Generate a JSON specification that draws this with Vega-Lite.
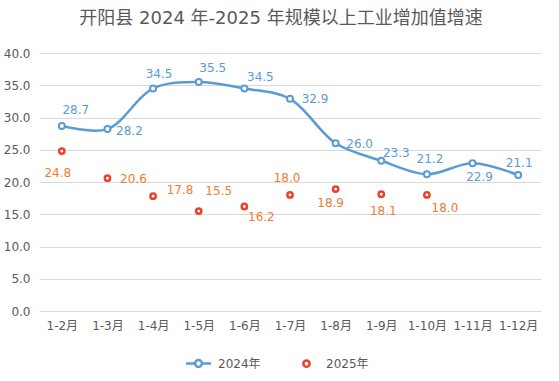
{
  "$schema": "https://vega.github.io/schema/vega-lite/v6.json",
  "width": 502,
  "height": 258,
  "autosize": {"type": "none"},
  "padding": {"left": 39, "top": 53, "right": 18, "bottom": 70},
  "background": "white",
  "title": {
    "text": "开阳县 2024 年-2025 年规模以上工业增加值增速",
    "fontSize": 18,
    "font": "DejaVu Sans, Noto Sans CJK SC",
    "fontWeight": "normal",
    "color": "#595959",
    "anchor": "middle",
    "dx": -9,
    "offset": 19
  },
  "data": {
    "values": [
      {"m": "1-2月", "y": "2024年", "v": 28.7},
      {"m": "1-3月", "y": "2024年", "v": 28.2},
      {"m": "1-4月", "y": "2024年", "v": 34.5},
      {"m": "1-5月", "y": "2024年", "v": 35.5},
      {"m": "1-6月", "y": "2024年", "v": 34.5},
      {"m": "1-7月", "y": "2024年", "v": 32.9},
      {"m": "1-8月", "y": "2024年", "v": 26.0},
      {"m": "1-9月", "y": "2024年", "v": 23.3},
      {"m": "1-10月", "y": "2024年", "v": 21.2},
      {"m": "1-11月", "y": "2024年", "v": 22.9},
      {"m": "1-12月", "y": "2024年", "v": 21.1},
      {"m": "1-2月", "y": "2025年", "v": 24.8},
      {"m": "1-3月", "y": "2025年", "v": 20.6},
      {"m": "1-4月", "y": "2025年", "v": 17.8},
      {"m": "1-5月", "y": "2025年", "v": 15.5},
      {"m": "1-6月", "y": "2025年", "v": 16.2},
      {"m": "1-7月", "y": "2025年", "v": 18.0},
      {"m": "1-8月", "y": "2025年", "v": 18.9},
      {"m": "1-9月", "y": "2025年", "v": 18.1},
      {"m": "1-10月", "y": "2025年", "v": 18.0}
    ]
  },
  "encoding": {
    "x": {
      "field": "m",
      "type": "ordinal",
      "sort": ["1-2月", "1-3月", "1-4月", "1-5月", "1-6月", "1-7月", "1-8月", "1-9月", "1-10月", "1-11月", "1-12月"],
      "scale": {"type": "point", "padding": 0.5},
      "axis": {"title": null, "labelAngle": 0, "domain": false, "ticks": false, "labelPadding": 9, "grid": false}
    },
    "y": {
      "field": "v",
      "type": "quantitative",
      "scale": {"domain": [0, 40], "nice": false},
      "axis": {"title": null, "values": [0, 5, 10, 15, 20, 25, 30, 35, 40], "format": ".1f", "domain": false, "ticks": false, "labelPadding": 9, "gridColor": "#D9D9D9", "gridWidth": 1}
    }
  },
  "layer": [
    {
      "transform": [{"filter": "datum.y=='2024年'"}],
      "mark": {"type": "line", "interpolate": "catmull-rom", "color": "#5B9BD5", "strokeWidth": 2.5}
    },
    {
      "transform": [{"filter": "datum.y=='2024年'"}],
      "mark": {"type": "point", "shape": "circle", "filled": false, "fill": "white", "stroke": "#5B9BD5", "strokeWidth": 2, "size": 36, "opacity": 1}
    },
    {
      "transform": [{"filter": "datum.y=='2025年'"}],
      "mark": {"type": "point", "shape": "circle", "filled": false, "fill": "white", "stroke": "#E9432B", "strokeWidth": 2.5, "size": 28, "opacity": 1}
    },
    {
      "mark": {"type": "point", "opacity": 0, "filled": false, "size": 10},
      "encoding": {
        "color": {
          "field": "y",
          "type": "nominal",
          "scale": {"domain": ["2024年", "2025年"], "range": ["#5B9BD5", "#E9432B"]},
          "legend": {
            "title": null,
            "orient": "none",
            "legendX": 152,
            "legendY": 303,
            "direction": "horizontal",
            "symbolSize": 156,
            "symbolStrokeWidth": 2.5,
            "symbolFillColor": "white",
            "labelOffset": 12,
            "columnPadding": 37,
            "labelFontSize": 12,
            "labelColor": "#595959",
            "labelFont": "DejaVu Sans, Noto Sans CJK SC"
          }
        },
        "shape": {
          "field": "y",
          "type": "nominal",
          "scale": {"domain": ["2024年", "2025年"], "range": ["M-2,0L-0.55,0M0.55,0L2,0M0.55,0A0.55,0.55 0 1 1 -0.55,0A0.55,0.55 0 1 1 0.55,0Z", "M0.5,0A0.5,0.5 0 1 1 -0.5,0A0.5,0.5 0 1 1 0.5,0Z"]}
        }
      }
    },
    {
      "encoding": {
        "text": {"field": "v", "type": "quantitative", "format": ".1f"},
        "color": {"condition": {"test": "datum.y=='2024年'", "value": "#5B9BD5"}, "value": "#ED7D31"}
      },
      "layer": [
        {"transform": [{"filter": "datum.y=='2024年'&&datum.m=='1-2月'"}], "mark": {"type": "text", "dx": 14, "dy": -16}},
        {"transform": [{"filter": "datum.y=='2024年'&&datum.m=='1-3月'"}], "mark": {"type": "text", "dx": 22, "dy": 2}},
        {"transform": [{"filter": "datum.y=='2024年'&&datum.m=='1-4月'"}], "mark": {"type": "text", "dx": 6, "dy": -14}},
        {"transform": [{"filter": "datum.y=='2024年'&&datum.m=='1-5月'"}], "mark": {"type": "text", "dx": 14, "dy": -14}},
        {"transform": [{"filter": "datum.y=='2024年'&&datum.m=='1-6月'"}], "mark": {"type": "text", "dx": 16, "dy": -11}},
        {"transform": [{"filter": "datum.y=='2024年'&&datum.m=='1-7月'"}], "mark": {"type": "text", "dx": 25, "dy": 0}},
        {"transform": [{"filter": "datum.y=='2024年'&&datum.m=='1-8月'"}], "mark": {"type": "text", "dx": 24, "dy": 1}},
        {"transform": [{"filter": "datum.y=='2024年'&&datum.m=='1-9月'"}], "mark": {"type": "text", "dx": 15, "dy": -8}},
        {"transform": [{"filter": "datum.y=='2024年'&&datum.m=='1-10月'"}], "mark": {"type": "text", "dx": 3, "dy": -15}},
        {"transform": [{"filter": "datum.y=='2024年'&&datum.m=='1-11月'"}], "mark": {"type": "text", "dx": 7, "dy": 14}},
        {"transform": [{"filter": "datum.y=='2024年'&&datum.m=='1-12月'"}], "mark": {"type": "text", "dx": 1, "dy": -12}},
        {"transform": [{"filter": "datum.y=='2025年'&&datum.m=='1-2月'"}], "mark": {"type": "text", "dx": -4, "dy": 22}},
        {"transform": [{"filter": "datum.y=='2025年'&&datum.m=='1-3月'"}], "mark": {"type": "text", "dx": 26, "dy": 1}},
        {"transform": [{"filter": "datum.y=='2025年'&&datum.m=='1-4月'"}], "mark": {"type": "text", "dx": 27, "dy": -6}},
        {"transform": [{"filter": "datum.y=='2025年'&&datum.m=='1-5月'"}], "mark": {"type": "text", "dx": 20, "dy": -20}},
        {"transform": [{"filter": "datum.y=='2025年'&&datum.m=='1-6月'"}], "mark": {"type": "text", "dx": 17, "dy": 10}},
        {"transform": [{"filter": "datum.y=='2025年'&&datum.m=='1-7月'"}], "mark": {"type": "text", "dx": -3, "dy": -17}},
        {"transform": [{"filter": "datum.y=='2025年'&&datum.m=='1-8月'"}], "mark": {"type": "text", "dx": -5, "dy": 14}},
        {"transform": [{"filter": "datum.y=='2025年'&&datum.m=='1-9月'"}], "mark": {"type": "text", "dx": 2, "dy": 17}},
        {"transform": [{"filter": "datum.y=='2025年'&&datum.m=='1-10月'"}], "mark": {"type": "text", "dx": 18, "dy": 13}}
      ]
    }
  ],
  "config": {
    "view": {"stroke": null},
    "text": {"font": "DejaVu Sans, Noto Sans CJK SC", "fontSize": 12, "baseline": "middle", "align": "center"},
    "axis": {"labelFont": "DejaVu Sans, Noto Sans CJK SC", "labelFontSize": 12, "labelColor": "#595959"}
  }
}
